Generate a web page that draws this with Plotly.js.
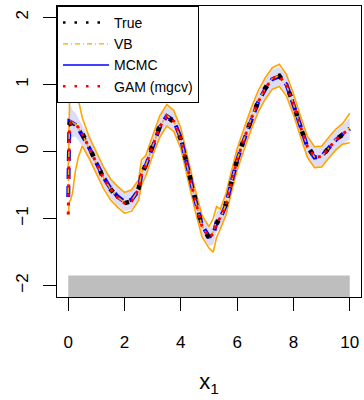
<!DOCTYPE html>
<html><head><meta charset="utf-8">
<script src="https://cdn.plot.ly/plotly-3.0.1.min.js"></script>
<style>html,body{margin:0;padding:0;background:#fff}#plot{width:364px;height:400px}</style>
</head><body><div id="plot"></div>
<script>
var xGrid = [0, 0.04, 0.09, 0.15, 0.25, 0.36, 0.5, 0.75, 1, 1.25, 1.5, 1.75, 2, 2.25, 2.5, 2.6, 2.75, 3, 3.25, 3.5, 3.75, 4, 4.25, 4.5, 4.75, 5, 5.15, 5.27, 5.4, 5.6, 5.8, 6, 6.25, 6.5, 6.75, 7, 7.25, 7.5, 7.75, 8, 8.25, 8.5, 8.75, 9, 9.25, 9.5, 9.75, 10];
var trueY = [0.40, 0.41, 0.42, 0.43, 0.42, 0.37, 0.27, 0.06, -0.16, -0.40, -0.56, -0.68, -0.77, -0.74, -0.55, -0.35, -0.20, 0.10, 0.38, 0.52, 0.44, 0.18, -0.25, -0.72, -1.12, -1.29, -1.22, -1.08, -0.98, -0.78, -0.45, -0.12, 0.20, 0.50, 0.75, 0.95, 1.10, 1.13, 0.98, 0.72, 0.36, 0.08, -0.08, -0.08, 0.06, 0.18, 0.25, 0.33];
var mcmcY = [-0.68, 0.45, 0.44, 0.42, 0.40, 0.34, 0.24, 0.05, -0.17, -0.38, -0.55, -0.67, -0.75, -0.72, -0.58, -0.33, -0.22, 0.08, 0.36, 0.53, 0.46, 0.20, -0.27, -0.70, -1.10, -1.27, -1.25, -1.05, -1.00, -0.80, -0.46, -0.13, 0.18, 0.48, 0.74, 0.93, 1.08, 1.12, 1.00, 0.70, 0.38, 0.06, -0.09, -0.07, 0.05, 0.17, 0.26, 0.34];
var mcmcLo = [-0.95, 0.18, 0.22, 0.22, 0.22, 0.17, 0.08, -0.10, -0.31, -0.52, -0.69, -0.81, -0.89, -0.86, -0.72, -0.48, -0.36, -0.06, 0.22, 0.39, 0.32, 0.06, -0.41, -0.84, -1.24, -1.41, -1.39, -1.20, -1.14, -0.94, -0.60, -0.27, 0.04, 0.34, 0.60, 0.79, 0.94, 0.98, 0.86, 0.56, 0.24, -0.08, -0.23, -0.21, -0.09, 0.03, 0.12, 0.18];
var mcmcHi = [-0.40, 0.72, 0.68, 0.62, 0.58, 0.50, 0.39, 0.20, -0.03, -0.24, -0.41, -0.53, -0.61, -0.58, -0.44, -0.18, -0.08, 0.22, 0.50, 0.67, 0.60, 0.34, -0.13, -0.56, -0.96, -1.13, -1.11, -0.90, -0.86, -0.66, -0.32, 0.01, 0.32, 0.62, 0.88, 1.07, 1.22, 1.26, 1.14, 0.84, 0.52, 0.20, 0.05, 0.07, 0.19, 0.31, 0.40, 0.50];
var vbY = [-0.62, 0.40, 0.46, 0.43, 0.41, 0.35, 0.25, 0.04, -0.18, -0.39, -0.56, -0.68, -0.76, -0.73, -0.57, -0.32, -0.21, 0.09, 0.37, 0.54, 0.45, 0.19, -0.26, -0.71, -1.11, -1.28, -1.20, -1.02, -1.01, -0.79, -0.45, -0.12, 0.19, 0.49, 0.75, 0.94, 1.09, 1.13, 0.99, 0.71, 0.37, 0.07, -0.08, -0.08, 0.05, 0.18, 0.27, 0.35];
var vbLo = [-0.94, -0.75, -0.72, -0.62, -0.30, -0.08, 0.08, -0.11, -0.33, -0.55, -0.72, -0.83, -0.92, -0.89, -0.73, -0.50, -0.37, -0.06, 0.21, 0.38, 0.30, 0.04, -0.42, -0.87, -1.27, -1.44, -1.50, -1.28, -1.16, -0.95, -0.61, -0.28, 0.03, 0.33, 0.59, 0.78, 0.93, 0.97, 0.83, 0.55, 0.22, -0.09, -0.24, -0.23, -0.10, 0.02, 0.11, 0.13];
var vbHi = [-0.25, 0.77, 1.71, 1.35, 1.02, 0.77, 0.50, 0.21, -0.02, -0.23, -0.41, -0.52, -0.61, -0.57, -0.42, -0.13, -0.06, 0.25, 0.53, 0.70, 0.61, 0.35, -0.10, -0.55, -0.95, -1.12, -1.00, -0.82, -0.86, -0.63, -0.29, 0.04, 0.35, 0.65, 0.91, 1.10, 1.25, 1.30, 1.15, 0.86, 0.53, 0.22, 0.07, 0.08, 0.21, 0.33, 0.42, 0.57];
var gamY = [-0.94, 0.38, 0.43, 0.42, 0.40, 0.36, 0.26, 0.05, -0.17, -0.40, -0.56, -0.69, -0.77, -0.74, -0.56, -0.34, -0.21, 0.09, 0.37, 0.52, 0.45, 0.19, -0.26, -0.71, -1.11, -1.28, -1.23, -1.06, -0.99, -0.79, -0.46, -0.12, 0.19, 0.49, 0.74, 0.94, 1.09, 1.12, 0.99, 0.71, 0.37, 0.07, -0.08, -0.08, 0.05, 0.17, 0.26, 0.34];
var rugX = [0, 10];
var rugTop = -1.85;
var xTicks = [0, 2, 4, 6, 8, 10];
var yTicks = [-2, -1, 0, 1, 2];
var legendNames = ['True', 'VB', 'MCMC', 'GAM (mgcv)'];

var yRange = [-2.17, 2.17];
var FONT = 'Liberation Sans, Arial, sans-serif';
var ORANGE = '#FFA500';

var traces = [
  {x: rugX, y: [yRange[0], yRange[0]], mode: 'lines', line: {width: 0}, showlegend: false, hoverinfo: 'skip'},
  {x: rugX, y: [rugTop, rugTop], mode: 'lines', line: {width: 0}, fill: 'tonexty', fillcolor: '#BEBEBE', showlegend: false, hoverinfo: 'skip'},
  {x: xGrid, y: mcmcLo, mode: 'lines', line: {width: 0}, showlegend: false},
  {x: xGrid, y: mcmcHi, mode: 'lines', line: {width: 0}, fill: 'tonexty', fillcolor: '#DCDCF6', showlegend: false},
  {x: xGrid, y: vbLo, mode: 'lines', line: {color: ORANGE, width: 1.6}, showlegend: false},
  {x: xGrid, y: vbHi, mode: 'lines', line: {color: ORANGE, width: 1.6}, showlegend: false},
  {x: xGrid, y: mcmcY, mode: 'lines', line: {color: '#0000FF', width: 4, dash: '11px,7px'}, showlegend: false},
  {x: xGrid, y: vbY, mode: 'lines', line: {color: ORANGE, width: 1.6, dash: 'dashdot'}, showlegend: false},
  {x: xGrid, y: trueY, mode: 'lines', line: {color: '#000000', width: 4.5, dash: '4.5px,16px'}, showlegend: false},
  {x: xGrid, y: gamY, mode: 'lines', line: {color: '#FF0000', width: 3, dash: '3px,6px'}, showlegend: false},
  {x: [null], y: [null], name: legendNames[0], mode: 'lines', line: {color: '#000000', width: 2.5, dash: '2.5px,9px'}},
  {x: [null], y: [null], name: legendNames[1], mode: 'lines', line: {color: ORANGE, width: 1.2, dash: '5px,3px,1px,3px'}},
  {x: [null], y: [null], name: legendNames[2], mode: 'lines', line: {color: '#0000FF', width: 1.5}},
  {x: [null], y: [null], name: legendNames[3], mode: 'lines', line: {color: '#FF0000', width: 2.5, dash: '2.5px,9px'}}
];

var layout = {
  width: 364, height: 400,
  margin: {l: 57, r: 3, t: 6, b: 103},
  paper_bgcolor: '#fff', plot_bgcolor: '#fff',
  font: {family: FONT, color: '#000'},
  showlegend: true,
  legend: {x: 0, y: 1, xanchor: 'left', yanchor: 'top', bgcolor: '#fff', bordercolor: '#000', borderwidth: 1,
           font: {size: 14, family: FONT}, itemwidth: 46, traceorder: 'normal'},
  xaxis: {range: [-0.4, 10.4], tickvals: xTicks, ticktext: xTicks.map(String), showgrid: false, zeroline: false,
          showline: true, mirror: true, linecolor: '#000', linewidth: 1,
          ticks: 'outside', ticklen: 13, tickcolor: '#000', tickwidth: 1,
          tickfont: {size: 17, family: FONT}, ticklabelstandoff: 17,
          title: {text: 'x<sub>1</sub>', font: {size: 22, family: FONT}, standoff: 22}},
  yaxis: {range: yRange, tickvals: yTicks, ticktext: yTicks.map(function(v){return v < 0 ? '\u2212' + Math.abs(v) : String(v);}),
          showgrid: false, zeroline: false,
          showline: true, mirror: true, linecolor: '#000', linewidth: 1,
          ticks: 'outside', ticklen: 13, tickcolor: '#000', tickwidth: 1, tickangle: -90,
          tickfont: {size: 17, family: FONT}, ticklabelstandoff: 8}
};

Plotly.newPlot('plot', traces, layout, {displayModeBar: false, staticPlot: true});
</script>
</body></html>
